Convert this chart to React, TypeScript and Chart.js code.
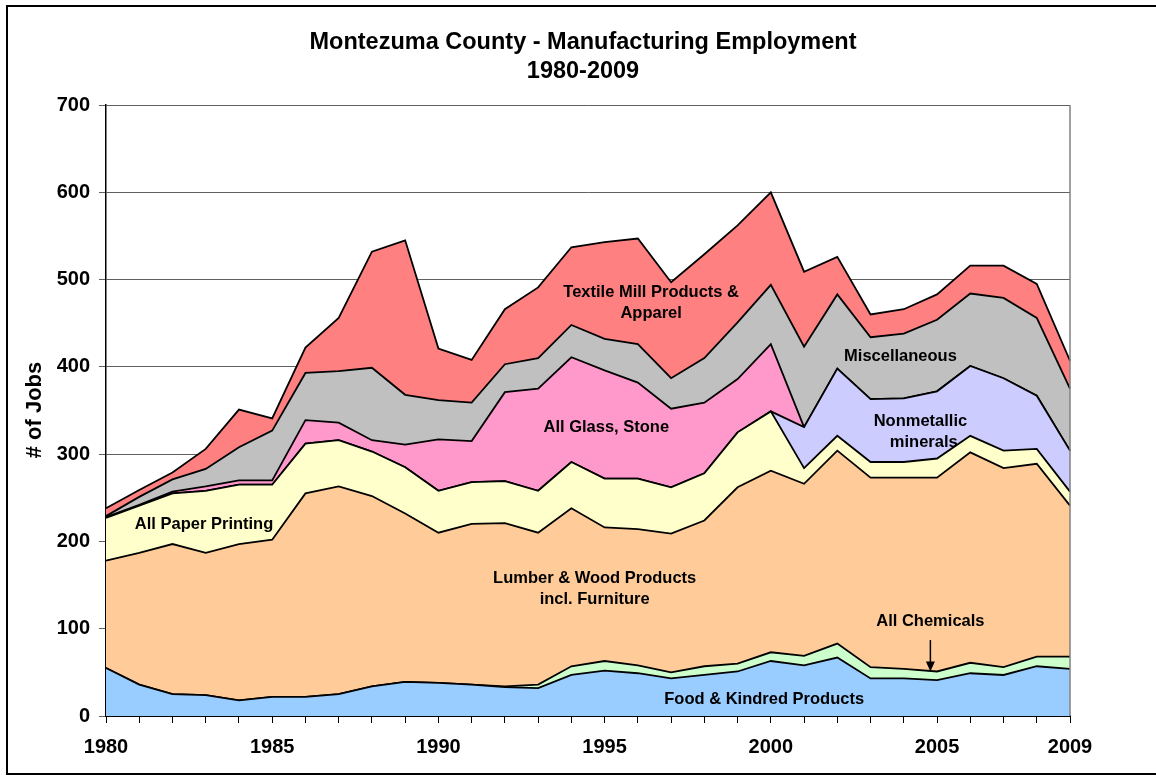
import React, { useEffect, useRef } from "react";
import { Chart, registerables } from "chart.js";

Chart.register(...registerables);

const years = [
  "1980","1981","1982","1983","1984","1985","1986","1987","1988","1989",
  "1990","1991","1992","1993","1994","1995","1996","1997","1998","1999",
  "2000","2001","2002","2003","2004","2005","2006","2007","2008","2009",
];

const food = [55,36,25,24,18,22,22,25,34,39,38,36,33,32,47,52,49,43,47,51,63,58,67,43,43,41,49,47,57,54];
const chemicals = [0,0,0,0,0,0,0,0,0,0,0,0,1,4,10,11,9,7,10,9,10,11,16,13,11,10,12,9,11,14];
const lumber = [123,151,172,163,179,180,233,238,218,193,172,184,187,174,181,153,156,159,167,202,208,197,221,217,219,222,241,228,221,173];
const paper = [49,54,58,71,68,63,57,53,51,53,48,48,48,48,53,56,58,53,54,63,68,18,17,18,18,22,19,20,17,16];
const nonmetallic = [0,0,0,0,0,0,0,0,0,0,0,0,0,0,0,0,0,0,0,0,0,47,77,72,73,77,80,83,61,47];
const glass = [1,1,2,5,5,5,27,20,13,26,59,47,102,117,120,124,110,90,81,61,77,0,0,0,0,0,0,0,0,0];
const misc = [1,9,14,20,38,57,54,59,83,57,45,44,32,35,37,36,44,35,51,65,68,92,85,71,74,82,83,92,89,71];
const textile = [9,8,8,23,43,14,29,61,133,177,59,49,63,81,89,111,121,110,119,111,106,86,43,26,28,29,32,37,39,32];

const titleLines = ["Montezuma County - Manufacturing Employment", "1980-2009"];
const yTitle = "# of Jobs";

// annotation labels: [text, x (year offset index), y (value)]
const annotations: [string, number, number][] = [
  ["Textile Mill Products &", 16.4, 485],
  ["Apparel", 16.4, 461],
  ["All Glass, Stone", 15.05, 331],
  ["All Paper Printing", 2.95, 220],
  ["Lumber & Wood Products", 14.7, 158],
  ["incl. Furniture", 14.7, 133],
  ["Miscellaneous", 23.9, 412],
  ["Nonmetallic", 24.5, 338],
  ["minerals", 24.6, 313],
  ["All Chemicals", 24.8, 108],
  ["Food & Kindred Products", 19.8, 19],
];
const arrowX = 24.8;
const arrowFrom = 87;
const arrowTo = 51;

const FONT = '"Liberation Sans", Arial, sans-serif';

export default function App() {
  const ref = useRef<HTMLCanvasElement | null>(null);

  useEffect(() => {
    const canvas = ref.current;
    if (!canvas) return;

    const mk = (label: string, data: number[], color: string, fill: any) => ({
      label,
      data,
      backgroundColor: color,
      borderColor: "#000000",
      borderWidth: 1.8,
      pointRadius: 0,
      pointHoverRadius: 0,
      tension: 0,
      fill,
    });

    const decor = {
      id: "decor",
      beforeDraw(chart: any) {
        const ctx = chart.ctx;
        ctx.save();
        ctx.fillStyle = "#ffffff";
        ctx.fillRect(0, 0, chart.width, chart.height);
        ctx.strokeStyle = "#000000";
        ctx.lineWidth = 2;
        ctx.strokeRect(7, 6, 1170, 768);
        ctx.restore();
      },
      afterDraw(chart: any) {
        const ctx = chart.ctx;
        const ca = chart.chartArea;
        const xs = chart.scales.x;
        const ys = chart.scales.y;
        ctx.save();
        // right border of plot
        ctx.strokeStyle = "#808080";
        ctx.lineWidth = 1.5;
        ctx.beginPath();
        ctx.moveTo(ca.right, ca.top);
        ctx.lineTo(ca.right, ca.bottom);
        ctx.stroke();

        // title
        ctx.fillStyle = "#000000";
        ctx.textAlign = "center";
        ctx.textBaseline = "middle";
        ctx.font = `bold 23.5px ${FONT}`;
        ctx.fillText(titleLines[0], 583, 43);
        ctx.fillText(titleLines[1], 583, 72);

        // y title
        ctx.save();
        ctx.translate(35, 410);
        ctx.rotate(-Math.PI / 2);
        ctx.font = `bold 22px ${FONT}`;
        ctx.fillText(yTitle, 0, 0);
        ctx.restore();

        // annotations
        ctx.font = `bold 16.5px ${FONT}`;
        for (const [t, xi, v] of annotations) {
          ctx.fillText(t, xs.getPixelForValue(xi), ys.getPixelForValue(v));
        }
        // arrow
        const ax = xs.getPixelForValue(arrowX);
        const y1 = ys.getPixelForValue(arrowFrom);
        const y2 = ys.getPixelForValue(arrowTo);
        ctx.strokeStyle = "#000000";
        ctx.lineWidth = 1.5;
        ctx.beginPath();
        ctx.moveTo(ax, y1);
        ctx.lineTo(ax, y2 - 8);
        ctx.stroke();
        ctx.beginPath();
        ctx.moveTo(ax, y2);
        ctx.lineTo(ax - 4.5, y2 - 10);
        ctx.lineTo(ax + 4.5, y2 - 10);
        ctx.closePath();
        ctx.fill();
        ctx.restore();
      },
    };

    const chart = new Chart(canvas, {
      type: "line",
      data: {
        labels: years,
        datasets: [
          mk("Food & Kindred Products", food, "#99CCFF", "origin"),
          mk("All Chemicals", chemicals, "#CCFFCC", "-1"),
          mk("Lumber & Wood Products incl. Furniture", lumber, "#FFCC99", "-1"),
          mk("All Paper Printing", paper, "#FFFFCC", "-1"),
          mk("Nonmetallic minerals", nonmetallic, "#CCCCFF", "-1"),
          mk("All Glass, Stone", glass, "#FF99CC", "-1"),
          mk("Miscellaneous", misc, "#C0C0C0", "-1"),
          mk("Textile Mill Products & Apparel", textile, "#FF8080", "-1"),
        ],
      },
      options: {
        responsive: false,
        animation: false,
        events: [],
        layout: { padding: { left: 8, top: 105, right: 86, bottom: 0 } },
        plugins: {
          legend: { display: false },
          title: { display: false },
          tooltip: { enabled: false },
        },
        scales: {
          x: {
            type: "category",
            offset: false,
            grid: {
              display: true,
              drawOnChartArea: false,
              drawTicks: true,
              tickLength: 7,
              color: "#000000",
              lineWidth: 1,
            },
            border: { display: true, color: "#000000", width: 2 },
            ticks: {
              autoSkip: false,
              maxRotation: 0,
              minRotation: 0,
              padding: 12,
              color: "#000000",
              font: { family: FONT, size: 20, weight: "bold" },
              callback: (_v: any, i: number) =>
                i % 5 === 0 || i === years.length - 1 ? years[i] : "",
            },
            afterFit: (s: any) => {
              s.height = 60;
            },
          },
          y: {
            stacked: true,
            min: 0,
            max: 700,
            grid: {
              color: "#606060",
              lineWidth: 1,
              tickLength: 7,
              drawTicks: true,
            },
            border: { display: true, color: "#000000", width: 1.5 },
            ticks: {
              stepSize: 100,
              padding: 9,
              color: "#000000",
              font: { family: FONT, size: 20, weight: "bold" },
            },
            afterFit: (s: any) => {
              s.width = 98;
            },
          },
        },
      },
      plugins: [decor],
    } as any);

    return () => chart.destroy();
  }, []);

  return (
    <div style={{ position: "fixed", left: 0, top: 0, width: 1156, height: 776, background: "#fff" }}>
      <canvas ref={ref} width={1156} height={776} style={{ display: "block", width: 1156, height: 776 }} />
    </div>
  );
}
